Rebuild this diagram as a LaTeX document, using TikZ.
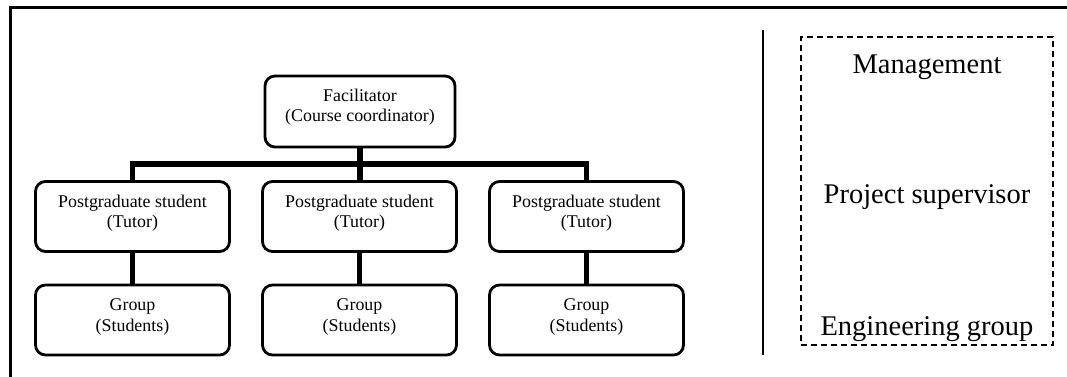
\documentclass[tikz,border=0pt]{standalone}
\usepackage{fontspec}
\setmainfont{Liberation Serif}
\newcommand\twoline[3][3pt]{\raisebox{#1}[\height][\depth]{\begin{tabular}{@{}c@{}}#2\\#3\end{tabular}}}
\begin{document}
\begin{tikzpicture}[x=1pt,y=-1pt,
  rbox/.style={draw,line width=2.8pt,rounded corners=10pt,minimum width=194pt,minimum height=70pt,align=center,inner sep=0pt,font=\fontsize{17.9}{20.5}\selectfont},
  conn/.style={line width=5.5pt},
  frame/.style={line width=3pt},
  bigtext/.style={font=\fontsize{28.5}{32}\selectfont,inner sep=0pt,anchor=base}]
\useasboundingbox (0,0) rectangle (1067,376);
\draw[frame] (10,420) -- (10,7) -- (1100,7);
% nodes
\node[rbox,minimum width=190pt,minimum height=71pt] (fac) at (360,111.5) {\twoline[4pt]{Facilitator}{(Course coordinator)}};
\node[rbox] (p1) at (132.5,216.5) {\twoline{Postgraduate student}{(Tutor)}};
\node[rbox] (p2) at (359.5,216.5) {\twoline{Postgraduate student}{(Tutor)}};
\node[rbox] (p3) at (586.5,216.5) {\twoline{Postgraduate student}{(Tutor)}};
\node[rbox] (g1) at (132.5,320) {\twoline{Group}{(Students)}};
\node[rbox] (g2) at (359.5,320) {\twoline{Group}{(Students)}};
\node[rbox] (g3) at (586.5,320) {\twoline{Group}{(Students)}};
\coordinate (bar) at (360,164);
% connectors
\draw[conn] (fac.south) -- (fac.south |- p2.north);
\draw[conn] (p1.north) |- (bar) -| (p3.north);
\draw[conn] (p1.south) -- (g1.north);
\draw[conn] (p2.south) -- (g2.north);
\draw[conn] (p3.south) -- (g3.north);
% right side
\coordinate (vtop) at (763,30);
\coordinate (vbot) at (763,355);
\draw[line width=2.2pt] (vtop) -- (vbot);
\node[draw,line width=2.2pt,dash pattern=on 6pt off 4pt,minimum width=252pt,minimum height=308pt,inner sep=0pt] (legend) at (927,191) {};
\node[bigtext] (mgmt) at (927,73) {Management};
\node[bigtext] (sup) at (927,203) {Project supervisor};
\node[bigtext] (eng) at (927,335) {Engineering group};
\end{tikzpicture}
\end{document}
